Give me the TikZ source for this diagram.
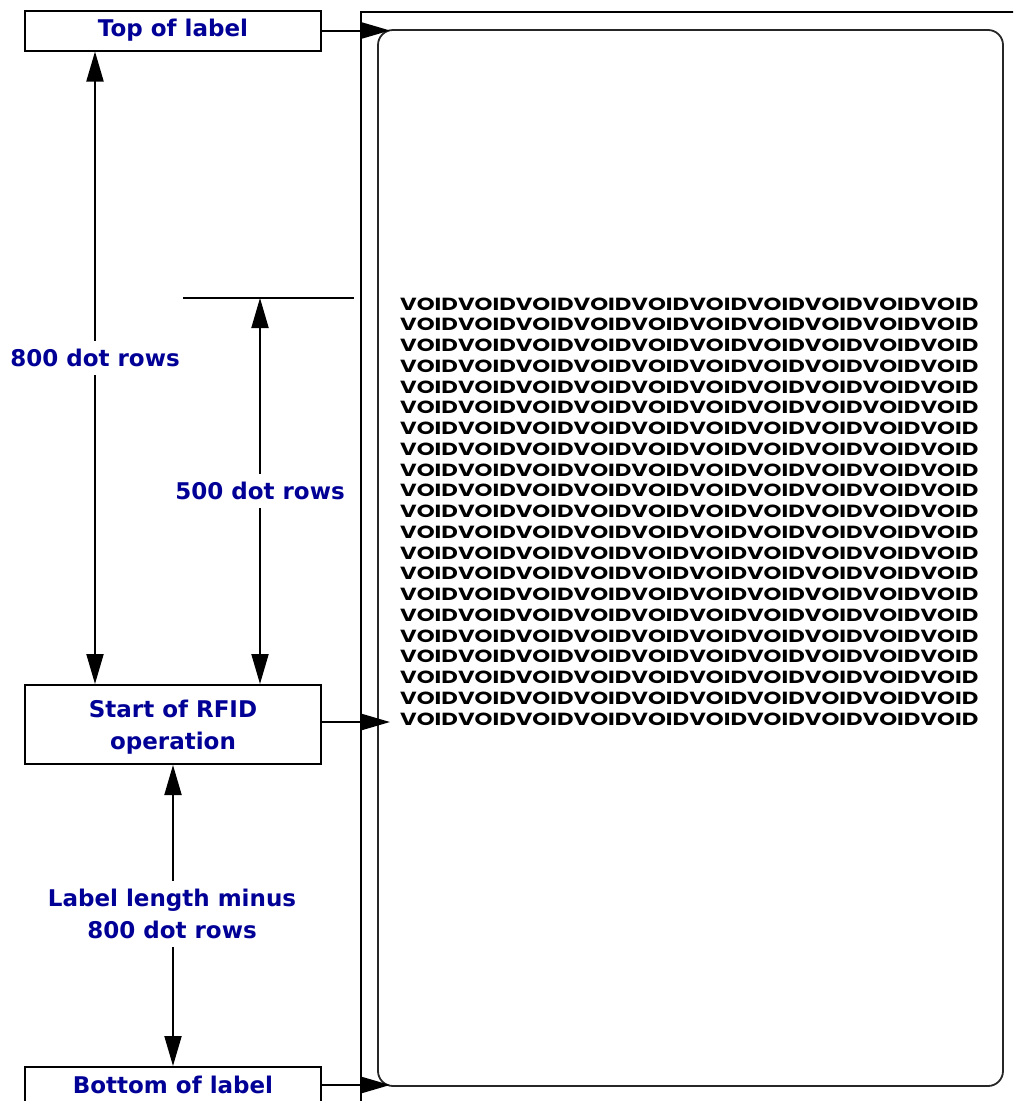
\documentclass[tikz,border=0pt]{standalone}
\usepackage{fontspec}
\usepackage{graphicx}
\usetikzlibrary{arrows.meta}
\newfontfamily\lblfont{DejaVu Sans}
\newfontfamily\voidfont{Poppins}
\definecolor{navy}{RGB}{0,0,150}
\tikzset{
  box/.style={draw, line width=2pt, fill=white, minimum width=296pt, inner sep=0pt,
              align=center, text=navy, font=\lblfont\bfseries\fontsize{23}{32}\selectfont},
  lbl/.style={fill=white, inner xsep=4pt, inner ysep=8pt, align=center, text=navy,
              font=\lblfont\bfseries\fontsize{23}{32}\selectfont},
  arr/.style={line width=2pt, -{Triangle[length=30pt,width=17pt]}},
  dbl/.style={line width=2pt, {Triangle[length=30pt,width=17pt]}-{Triangle[length=30pt,width=17pt]}},
  frame/.style={line width=2pt},
  voidrow/.style={anchor=west, inner sep=0pt}
}
\begin{document}
\begin{tikzpicture}[x=1pt,y=-1pt]
\useasboundingbox (0,0) rectangle (1013,1101);
\clip (0,0) rectangle (1013,1101);
% outer frame (left and top edges of the label stock)
\coordinate (f1) at (361,1110);
\coordinate (f2) at (361,12);
\coordinate (f3) at (1020,12);
\draw[frame] (f1) -- (f2) -- (f3);
% label
\node[draw=black!85, line width=1.8pt, rounded corners=15pt, minimum width=625pt,
      minimum height=1056pt, inner sep=0pt] (lab) at (690.5,558) {};
% VOID rows
\foreach \i in {0,...,20}{
  \node[voidrow] (v\i) at (400,{304+20.75*\i})
    {\resizebox{578pt}{12.5pt}{\voidfont\bfseries VOIDVOIDVOIDVOIDVOIDVOIDVOIDVOIDVOIDVOID}};
}
% boxes
\node[box, minimum height=79pt] (start) at (173,724.5) {};
\node[text=navy, align=center, font=\lblfont\bfseries\fontsize{23}{32}\selectfont] (starttxt) at (173,727) {Start of RFID\\operation};
\node[box, minimum height=40pt] (top) at (173,30.5) {Top of label};
\node[box, minimum height=36pt] (bot) at (173,1085) {Bottom of label};
% arrows into label
\coordinate (t1) at (390,30.5);
\coordinate (t2) at (390,722);
\coordinate (t3) at (390,1085);
\draw[arr] (top.east) -- (t1);
\draw[arr] (start.east |- t2) -- (t2);
\draw[arr] (bot.east) -- (t3);
% 500 dot rows reference line
\coordinate (h1) at (183,298);
\coordinate (h2) at (354,298);
\draw[frame] (h1) -- (h2);
\coordinate (h5) at (260,298);
% dimension arrows
\draw[dbl] ([xshift=-78pt]top.south) -- ([xshift=-78pt]start.north);
\draw[dbl] (h5) -- (h5 |- start.north);
\draw[dbl] (start.south) -- (bot.north);
% dimension labels
\node[lbl] (l800) at (95,358) {800 dot rows};
\node[lbl] (l500) at (260,491) {500 dot rows};
\node[lbl] (llen) at (172,914) {Label length minus\\800 dot rows};
\end{tikzpicture}
\end{document}
